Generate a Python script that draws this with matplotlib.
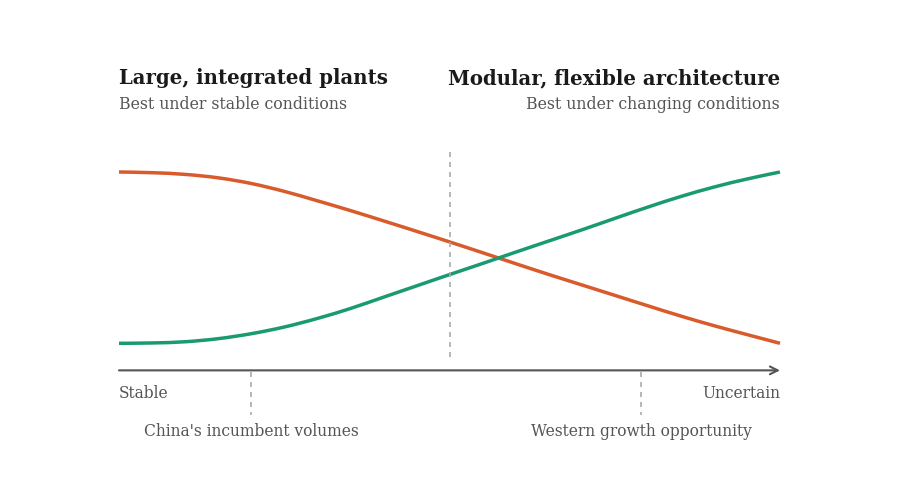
import numpy as np
import matplotlib
matplotlib.use("Agg")
import matplotlib.pyplot as plt
from matplotlib.path import Path
from matplotlib.patches import PathPatch

# uncertainty of conditions (0 = stable, 1 = uncertain)
uncertainty = np.array([0.00, 0.05, 0.10, 0.15, 0.20, 0.25, 0.30, 0.35, 0.40, 0.45, 0.50,
                        0.55, 0.60, 0.65, 0.70, 0.75, 0.80, 0.85, 0.90, 0.95, 1.00])
# relative advantage of each model
large_plants = np.array([1.000, 0.996, 0.986, 0.966, 0.933, 0.887, 0.832, 0.775, 0.715, 0.654, 0.592,
                         0.529, 0.465, 0.402, 0.341, 0.280, 0.219, 0.159, 0.103, 0.051, 0.000])
modular = np.array([0.000, 0.002, 0.009, 0.027, 0.056, 0.095, 0.145, 0.203, 0.269, 0.335, 0.401,
                    0.466, 0.532, 0.597, 0.662, 0.729, 0.795, 0.857, 0.912, 0.959, 1.000])

midpoint = 0.5
markers = [0.2, 0.79]
marker_labels = ["China's incumbent volumes", "Western growth opportunity"]

orange = "#d95a2b"
green = "#1a9a72"
grey_txt = "#555555"
grey_dash = "#aaaaaa"

plt.rcParams['font.family'] = ['DejaVu Serif']


def smooth_path(x, y):
    # Catmull-Rom through the points, drawn as cubic Bezier segments
    pts = np.column_stack([x, y])
    ext = np.vstack([pts[0], pts, pts[-1]])
    verts = [pts[0]]
    codes = [Path.MOVETO]
    for i in range(1, len(ext) - 2):
        p0, p1, p2, p3 = ext[i - 1], ext[i], ext[i + 1], ext[i + 2]
        verts += [p1 + (p2 - p0) / 6, p2 - (p3 - p1) / 6, p2]
        codes += [Path.CURVE4] * 3
    return Path(verts, codes)


def fy(py):
    # pixel row -> figure fraction
    return 1 - py / 504


fig = plt.figure(figsize=(9, 5.04), dpi=100)
ax = fig.add_axes([119 / 900, (504 - 343.3) / 504, 661 / 900, 171.3 / 504])
ax.set_xlim(0, 1)
ax.set_ylim(0, 1)
ax.axis('off')

for vals, col in [(large_plants, orange), (modular, green)]:
    ax.add_patch(PathPatch(smooth_path(uncertainty, vals), fill=False, edgecolor=col,
                           lw=2.5, capstyle='butt', clip_on=False))

# dashed divider in the middle
ax.plot([midpoint, midpoint], [1.117, -0.111], color=grey_dash, lw=1.2,
        ls=(0, (3, 3)), clip_on=False)

# axis arrow
ax.annotate("", xy=(1.0, -0.158), xytext=(0.0, -0.158),
            arrowprops=dict(arrowstyle='->', color=grey_txt, lw=1.5,
                            shrinkA=0, shrinkB=0, mutation_scale=14),
            annotation_clip=False)

for m, lab in zip(markers, marker_labels):
    ax.plot([m, m], [-0.17, -0.421], color=grey_dash, lw=1.2, ls=(0, (3, 3)), clip_on=False)
    fig.text((119 + m * 661) / 900, fy(435.5), lab, ha='center', va='baseline',
             fontsize=11.2, color=grey_txt)

fig.text(119 / 900, fy(398.5), "Stable", ha='left', va='baseline', fontsize=11.2,
         color=grey_txt)
fig.text(780 / 900, fy(398.5), "Uncertain", ha='right', va='baseline', fontsize=11.2,
         color=grey_txt)

fig.text(119 / 900, fy(84.5), "Large, integrated plants", ha='left', va='baseline',
         fontsize=14.2, fontweight='bold', color="#1a1a1a")
fig.text(119 / 900, fy(109), "Best under stable conditions", ha='left', va='baseline',
         fontsize=11.35, color=grey_txt)
fig.text(780 / 900, fy(84.5), "Modular, flexible architecture", ha='right', va='baseline',
         fontsize=14.2, fontweight='bold', color="#1a1a1a")
fig.text(780 / 900, fy(109), "Best under changing conditions", ha='right', va='baseline',
         fontsize=11.35, color=grey_txt)

fig.savefig("out.png", dpi=100, facecolor="white")
